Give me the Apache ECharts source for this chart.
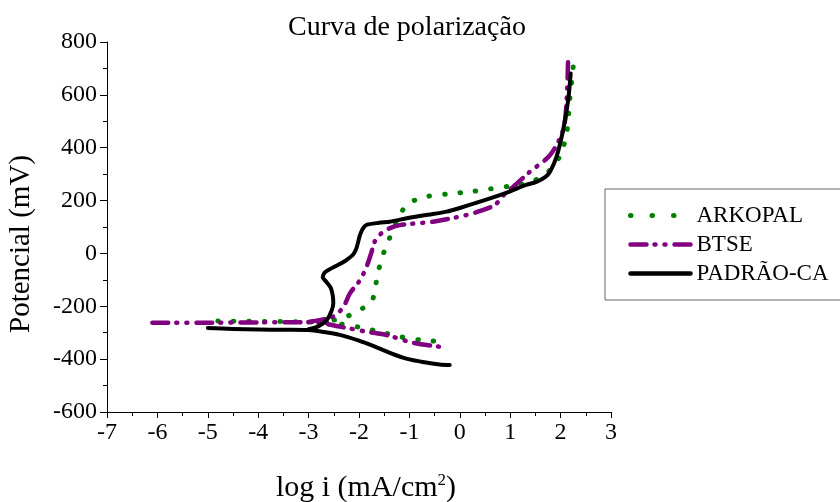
<!DOCTYPE html>
<html>
<head>
<meta charset="utf-8">
<script src="https://cdn.jsdelivr.net/npm/echarts@6/dist/echarts.min.js"></script>
<style>
  html, body { margin: 0; padding: 0; background: #fff; }
  #chart { width: 840px; height: 502px; }
</style>
</head>
<body>
<div id="chart"></div>
<script>
// log i (mA/cm2) x Potencial (mV)
const seriesNames = ['ARKOPAL', 'BTSE', 'PADRÃO-CA'];
const xTicks = [-7, 3, 1];       // min, max, intervalo
const yTicks = [-600, 800, 200];

// ramo catódico (começa na ponta esquerda, perto do Ecorr)
const arkopalCatodico = [
  [-4.8, -256], [-4.2, -257], [-3.5, -258], [-2.8, -260], [-2.38, -267],
  [-1.98, -280], [-1.59, -296], [-1.19, -315], [-0.76, -328], [-0.3, -334]
];
const arkopalAnodico = [
  [-2.8, -259], [-2.5, -252], [-2.25, -239], [-1.95, -210], [-1.75, -183],
  [-1.67, -120], [-1.62, -70], [-1.55, -20], [-1.49, 13], [-1.39, 60],
  [-1.19, 145], [-1.02, 189], [-0.66, 215], [-0.23, 225], [0.19, 233],
  [0.6, 244], [1.03, 256], [1.42, 271], [1.75, 309], [1.98, 366],
  [2.12, 454], [2.18, 580], [2.25, 706], [2.26, 760]
];

const btseCatodico = [
  [-6.1, -262], [-5.0, -262], [-4.0, -261], [-3.0, -260], [-2.7, -265],
  [-2.38, -277], [-1.85, -296], [-1.45, -309], [-0.93, -338], [-0.4, -353],
  [-0.3, -354]
];
const btseAnodico = [
  [-3.0, -259], [-2.51, -239], [-2.31, -202], [-2.18, -151], [-1.98, -101],
  [-1.85, -50], [-1.75, 6], [-1.69, 44], [-1.6, 68], [-1.45, 90],
  [-1.19, 107], [-0.53, 120], [0.13, 145], [0.36, 158], [0.69, 183],
  [0.93, 233], [1.06, 252], [1.39, 309], [1.79, 372], [2.05, 467],
  [2.12, 580], [2.15, 744]
];

const padraoCatodico = [
  [-5.0, -282], [-4.5, -286], [-4.0, -288], [-3.5, -289], [-3.0, -290],
  [-2.7, -297], [-2.38, -308], [-2.0, -330], [-1.72, -350], [-1.4, -375],
  [-1.06, -398], [-0.7, -412], [-0.4, -420], [-0.2, -422]
];
const padraoAnodico = [
  [-3.0, -287], [-2.8, -275], [-2.64, -252], [-2.55, -220], [-2.51, -189],
  [-2.52, -160], [-2.56, -130], [-2.65, -107], [-2.72, -90], [-2.68, -72],
  [-2.6, -62], [-2.4, -42], [-2.25, -25], [-2.12, -5], [-2.05, 20],
  [-1.98, 70], [-1.92, 95], [-1.85, 108], [-1.6, 116], [-1.39, 120],
  [-1.0, 135], [-0.5, 150], [-0.26, 158], [0.0, 172], [0.6, 208],
  [1.0, 235], [1.3, 258], [1.52, 271], [1.7, 290], [1.79, 309],
  [1.92, 366], [2.05, 467], [2.15, 580], [2.2, 681]
];

const FONT = '"Liberation Serif", "Times New Roman", serif';

const estilos = {
  'ARKOPAL': { color: '#008000', width: 5, type: [0.5, 15], cap: 'round' },
  'BTSE': { color: '#800080', width: 4.5, type: [16, 8, 1, 9, 1, 9], cap: 'round' },
  'PADRÃO-CA': { color: '#000000', width: 4, type: 'solid', cap: 'round' }
};

function serie(nome, dados) {
  const s = estilos[nome];
  return {
    name: nome,
    type: 'line',
    data: dados,
    symbol: 'none',
    showSymbol: false,
    smooth: 0.3,
    color: s.color,
    lineStyle: { color: s.color, width: s.width, type: s.type, cap: s.cap, join: 'round' },
    emphasis: { disabled: true },
    animation: false
  };
}

const chart = echarts.init(document.getElementById('chart'));

chart.setOption({
  backgroundColor: '#ffffff',
  animation: false,
  title: {
    text: 'Curva de polarização',
    left: 288,
    top: 14,
    padding: 0,
    textStyle: { fontFamily: FONT, fontSize: 28, fontWeight: 'normal', color: '#000' }
  },
  legend: {
    data: seriesNames.map(n => ({
      name: n,
      itemStyle: { opacity: 0 },
      lineStyle: { cap: 'round', width: n === 'ARKOPAL' ? 5 : 4.5, type: n === 'ARKOPAL' ? [0.5, 21] : estilos[n].type }
    })),
    orient: 'vertical',
    left: 605,
    top: 189,
    padding: [15, 80, 15, 23],
    itemGap: 6,
    itemWidth: 60,
    itemHeight: 14,
    borderColor: '#666',
    borderWidth: 1,
    borderRadius: 0,
    selectedMode: false,
    textStyle: { fontFamily: FONT, fontSize: 23, color: '#000', lineHeight: 22, padding: [0, 0, 0, 1] }
  },
  grid: { left: 107, right: 229, top: 42, bottom: 90, containLabel: false, outerBoundsMode: 'none' },
  xAxis: {
    type: 'value',
    min: xTicks[0],
    max: xTicks[1],
    interval: xTicks[2],
    name: 'log i (mA/cm{sup|2})',
    nameLocation: 'middle',
    nameGap: 60,
    nameTextStyle: {
      fontFamily: FONT, fontSize: 30, color: '#000', padding: [0, 0, 0, 14],
      rich: { sup: { fontFamily: FONT, fontSize: 17, verticalAlign: 'top', padding: [0, 0, 15, 0] } }
    },
    axisLine: { onZero: false, lineStyle: { color: '#000', width: 1 } },
    axisTick: { inside: false, length: 6, lineStyle: { color: '#000' } },
    minorTick: { show: true, splitNumber: 2, length: 4, lineStyle: { color: '#000' } },
    splitLine: { show: false },
    axisLabel: { fontFamily: FONT, fontSize: 24, color: '#000', margin: 9 }
  },
  yAxis: {
    type: 'value',
    min: yTicks[0],
    max: yTicks[1],
    interval: yTicks[2],
    name: 'Potencial (mV)',
    nameLocation: 'middle',
    nameGap: 71,
    nameTextStyle: { fontFamily: FONT, fontSize: 29, color: '#000', padding: [0, 34, 0, 0] },
    axisLine: { show: true, onZero: false, lineStyle: { color: '#000', width: 1 } },
    axisTick: { show: true, inside: false, length: 7, lineStyle: { color: '#000' } },
    minorTick: { show: true, splitNumber: 2, length: 4, lineStyle: { color: '#000' } },
    splitLine: { show: false },
    axisLabel: { fontFamily: FONT, fontSize: 24, color: '#000', margin: 10 }
  },
  series: [
    serie('ARKOPAL', arkopalCatodico),
    serie('ARKOPAL', arkopalAnodico),
    serie('BTSE', btseCatodico),
    serie('BTSE', btseAnodico),
    serie('PADRÃO-CA', padraoCatodico),
    serie('PADRÃO-CA', padraoAnodico)
  ]
});

window.addEventListener('resize', () => chart.resize());
</script>
</body>
</html>
